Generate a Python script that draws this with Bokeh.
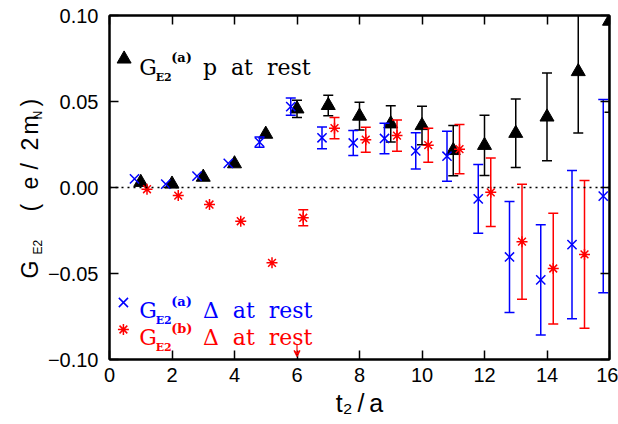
from bokeh.plotting import figure
from bokeh.layouts import row
from bokeh.models import (LinearAxis, FixedTicker, CustomJSTickFormatter, Span, Label,
                          Arrow, VeeHead, Range1d)
from bokeh.core.properties import value
from bokeh.embed import file_html
from bokeh.resources import INLINE

# ---------------- data ----------------
x_ticks = [0, 2, 4, 6, 8, 10, 12, 14, 16]
y_ticks = [-0.10, -0.05, 0.0, 0.05, 0.10]

# G_E2^(a), proton at rest (black triangles)
t_p = [1, 2, 3, 4, 5, 6, 7, 8, 9, 10, 11, 12, 13, 14, 15, 16]
ge2_p = [0.003, 0.002, 0.006, 0.0138, 0.031, 0.0457, 0.0477, 0.0415, 0.037, 0.036,
         0.0215, 0.0245, 0.0315, 0.041, 0.0674, 0.0967]
err_p = [0.001, 0.001, 0.001, 0.001, 0.0015, 0.005, 0.006, 0.008, 0.0105, 0.0112,
         0.0146, 0.0175, 0.0199, 0.0255, 0.0357, 0.053]

# G_E2^(a), Delta at rest (blue crosses)
t_a = [0.8, 1.8, 2.8, 3.8, 4.8, 5.8, 6.8, 7.8, 8.8, 9.8, 10.8, 11.8, 12.8, 13.8, 14.8, 15.8]
ge2_a = [0.005, 0.002, 0.0066, 0.014, 0.0264, 0.047, 0.0289, 0.0259, 0.0285, 0.0213,
         0.0182, -0.0066, -0.0404, -0.0537, -0.0332, -0.005]
err_a = [0.001, 0.001, 0.001, 0.001, 0.003, 0.005, 0.0063, 0.0073, 0.0089, 0.0105,
         0.0145, 0.020, 0.0323, 0.032, 0.0431, 0.0562]

# G_E2^(b), Delta at rest (red asterisks)
t_b = [1.2, 2.2, 3.2, 4.2, 5.2, 6.2, 7.2, 8.2, 9.2, 10.2, 11.2, 12.2, 13.2, 14.2, 15.2]
ge2_b = [-0.001, -0.0047, -0.0099, -0.0196, -0.0438, -0.0176, 0.0345, 0.0278, 0.0302,
         0.0246, 0.0223, -0.0028, -0.0315, -0.0471, -0.0389]
err_b = [0.001, 0.001, 0.001, 0.001, 0.001, 0.0046, 0.0062, 0.0073, 0.0091, 0.0099,
         0.0143, 0.0199, 0.0334, 0.0322, 0.0429]

sink_t = 6  # time slice marked by the red arrow
x_title = "t\u2082\u2009/\u2009a"

# ---------------- layout ----------------
W, H = 618, 424
FL, FR, FT, FB = 106, 609, 15, 359      # frame edges in page pixels
YLAB_W = 44                              # strip for the y title
MAIN_W = W - YLAB_W
X0, X1 = 0, 16
Y0, Y1 = -0.10, 0.10
MIN_VISIBLE_ERR = 0.002


def dx(px):
    return X0 + (px - FL) / (FR - FL) * (X1 - X0)


def dy(py):
    return Y1 - (py - FT) / (FB - FT) * (Y1 - Y0)


p = figure(width=MAIN_W, height=H, x_range=Range1d(X0, X1), y_range=Range1d(Y0, Y1),
           output_backend="svg", toolbar_location=None,
           min_border_left=FL - YLAB_W, min_border_right=W - FR,
           min_border_top=FT, min_border_bottom=H - FB)
p.grid.visible = False
p.background_fill_color = "white"
p.border_fill_color = "white"
p.outline_line_color = "black"
p.outline_line_width = 2

yfmt = CustomJSTickFormatter(code="return (tick < -1e-9 ? '\u2212' : '') + Math.abs(tick).toFixed(2);")
empty_fmt = CustomJSTickFormatter(code="return '';")


def style_axis(ax, ticks, labels=True):
    ax.ticker = FixedTicker(ticks=ticks)
    ax.major_tick_in = 9
    ax.major_tick_out = 0
    ax.minor_tick_in = 0
    ax.minor_tick_out = 0
    ax.axis_line_width = 2
    ax.axis_line_color = "black"
    ax.major_tick_line_width = 1.5
    ax.major_tick_line_color = "black"
    ax.axis_label = None
    if labels:
        ax.major_label_text_font = "Liberation Sans"
        ax.major_label_text_font_size = "20px"
        ax.major_label_text_color = "black"
    else:
        ax.formatter = empty_fmt
        ax.major_label_text_font_size = "1px"
        ax.major_label_standoff = 0


xa = p.xaxis[0]
style_axis(xa, x_ticks)
xa.major_label_standoff = 8
xa.axis_label = x_title
xa.axis_label_text_font = "Liberation Sans"
xa.axis_label_text_font_style = "normal"
xa.axis_label_text_font_size = "25px"
xa.axis_label_text_color = "black"
xa.axis_label_standoff = 4

style_axis(p.yaxis[0], y_ticks)
p.yaxis[0].formatter = yfmt
p.yaxis[0].major_label_standoff = 11

top_ax = LinearAxis()
style_axis(top_ax, x_ticks, labels=False)
p.add_layout(top_ax, "above")
right_ax = LinearAxis()
style_axis(right_ax, y_ticks, labels=False)
p.add_layout(right_ax, "right")

# zero line
p.add_layout(Span(location=0, dimension="width", line_color="black",
                  line_dash="2 4", line_width=1.5))


def errbars(t, v, e, color):
    sel = [i for i in range(len(t)) if e[i] > MIN_VISIBLE_ERR]
    xs = [t[i] for i in sel]
    lo = [v[i] - e[i] for i in sel]
    hi = [v[i] + e[i] for i in sel]
    p.segment(x0=xs, y0=lo, x1=xs, y1=hi, line_color=color, line_width=1.5)
    p.scatter(x=xs + xs, y=lo + hi, marker="dash", size=10,
              line_color=color, line_width=1.5)


errbars(t_p, ge2_p, err_p, "black")
p.scatter(t_p, ge2_p, marker="triangle", size=14, fill_color="black", line_color="black")
errbars(t_a, ge2_a, err_a, "blue")
p.scatter(t_a, ge2_a, marker="x", size=13, line_color="blue", line_width=1.5)
errbars(t_b, ge2_b, err_b, "red")
p.scatter(t_b, ge2_b, marker="asterisk", size=11, line_color="red", line_width=1.5)

# red arrow
p.add_layout(Arrow(end=VeeHead(size=6, line_color="red", line_width=1.2),
                   x_start=sink_t, y_start=dy(344), x_end=sink_t, y_end=dy(356),
                   line_color="red", line_width=1.2))

# ---------------- legend ----------------
SERIF = "DejaVu Serif"
NB = "\u00a0"
legend_rows = [
    ("triangle", "black", 120.7, 58.5, 66.5, "(a)", "p" + NB * 2 + "at" + NB * 2 + "rest"),
    ("x", "blue", 120.0, 302.0, 310.0, "(a)", "\u0394" + NB * 2 + "at" + NB * 2 + "rest"),
    ("asterisk", "red", 120.0, 329.0, 337.0, "(b)", "\u0394" + NB * 2 + "at" + NB * 2 + "rest"),
]
for mk, col, mx, my, base, sup, txt in legend_rows:
    if mk == "triangle":
        p.scatter([dx(mx)], [dy(my)], marker=mk, size=14, fill_color=col, line_color=col)
    elif mk == "x":
        p.scatter([dx(mx)], [dy(my)], marker=mk, size=13, line_color=col, line_width=1.5)
    else:
        p.scatter([dx(mx)], [dy(my)], marker=mk, size=11, line_color=col, line_width=1.5)
    p.add_layout(Label(x=dx(136), y=dy(base), text="G", text_font=SERIF,
                       text_font_size="22px", text_color=col, text_baseline="alphabetic"))
    p.add_layout(Label(x=dx(152.5), y=dy(base + 10), text="E2", text_font=SERIF,
                       text_font_style="bold", text_font_size="11px", text_color=col,
                       text_baseline="alphabetic"))
    p.add_layout(Label(x=dx(168), y=dy(base - 9.5), text=sup, text_font=SERIF,
                       text_font_style="bold", text_font_size="13px", text_color=col,
                       text_baseline="alphabetic"))
    p.add_layout(Label(x=dx(200), y=dy(base), text=txt, text_font=SERIF,
                       text_font_size="22px", text_color=col, text_baseline="alphabetic"))

# ---------------- y title (separate strip) ----------------
# Bokeh aligns the frames of plots in a row, so the strip's frame spans page y FT..FB;
# the range is chosen so that data y == H - (page y).
SANS = "Liberation Sans"
yl = figure(width=YLAB_W, height=H, x_range=Range1d(0, YLAB_W), y_range=Range1d(H - FB, H - FT),
            output_backend="svg", toolbar_location=None,
            x_axis_location=None, y_axis_location=None,
            min_border=0, min_border_left=0, min_border_right=0,
            min_border_top=FT, min_border_bottom=H - FB)
yl.grid.visible = False
yl.outline_line_color = None
yl.background_fill_color = "white"
yl.border_fill_color = "white"

# (text, baseline x px, start y px from top, font px)
ylab = [("G", 29, 278, 23), ("E2", 37.5, 254, 12), ("(", 29, 211, 23), ("e", 29, 189, 23),
        ("/", 29, 169, 23), ("2", 29, 150, 23), ("m", 29, 134, 23), ("N", 37.5, 119, 12),
        (")", 29, 106, 23)]
for txt, bx, sy0, fs in ylab:
    yl.text(x=[bx], y=[H - sy0], text=[txt], text_font=value(SANS),
            text_font_size=f"{fs}px", text_color="black", angle=90, angle_units="deg",
            text_baseline="alphabetic", text_align="left")

layout = row(yl, p, spacing=0)
open("out.html", "w").write(file_html(layout, INLINE))
